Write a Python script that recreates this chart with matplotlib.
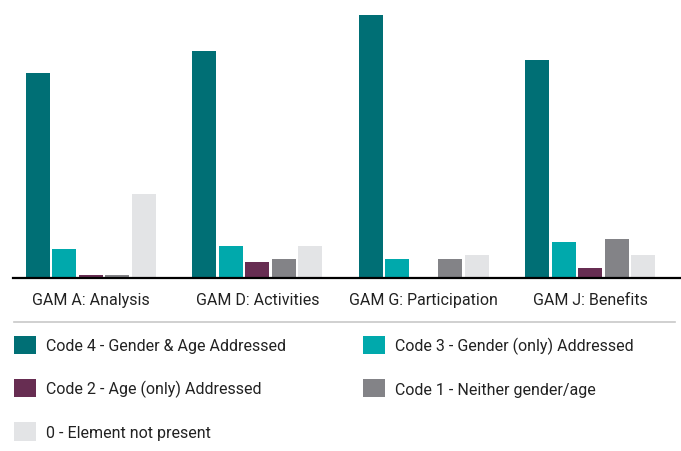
import matplotlib
matplotlib.use("Agg")
import matplotlib.pyplot as plt
from matplotlib.patches import Patch
from matplotlib.lines import Line2D
import numpy as np

plt.rcParams['font.family'] = ['Roboto', 'DejaVu Sans']

categories = ["GAM A: Analysis", "GAM D: Activities", "GAM G: Participation", "GAM J: Benefits"]
series_names = ["Code 4 - Gender & Age Addressed", "Code 3 - Gender (only) Addressed",
                "Code 2 - Age (only) Addressed", "Code 1 - Neither gender/age",
                "0 - Element not present"]
code4 = [63, 70, 81, 67]
code3 = [9, 10, 6, 11]
code2 = [1, 5, 0, 3]
code1 = [1, 6, 6, 12]
code0 = [26, 10, 7, 7]
colors = ["#006f75", "#00a9ac", "#672d52", "#838387", "#e3e4e6"]

series = [code4, code3, code2, code1, code0]

W, H = 681, 452
fig = plt.figure(figsize=(W / 100, H / 100), dpi=100)
ax = fig.add_axes([13 / W, (H - 279) / H, (W - 13) / W, 279 / H])

x = np.arange(len(categories))
step = 26.5 / 166.5
bw = 24 / 166.5
for j, (vals, c) in enumerate(zip(series, colors)):
    ax.bar(x + (j - 2) * step, vals, width=bw, color=c, label=series_names[j], zorder=2)

ax.set_xlim(-78 / 166.5, 3 + 91 / 166.5)
ax.set_ylim(0, 279 / 3.25)
for s in ["top", "right", "left"]:
    ax.spines[s].set_visible(False)
ax.spines["bottom"].set_linewidth(1.6)
ax.spines["bottom"].set_color("black")
ax.spines["bottom"].set_zorder(3)
ax.set_yticks([])
ax.set_xticks(x)
ax.set_xticklabels(categories, fontsize=11.5, color="#222222")
ax.tick_params(axis="x", length=0, pad=10)

fig.add_artist(Line2D([14 / W, 675 / W], [1 - 322.5 / H] * 2, color="#c8c8c8", lw=1.2))

fs = 11.5
fpx = fs * 100 / 72
col1 = [0, 2, 4]
col2 = [1, 3]
for cols, xpos in [(col1, 14), (col2, 363)]:
    handles = [Patch(facecolor=colors[i], edgecolor="none") for i in cols]
    labels = [series_names[i] for i in cols]
    fig.legend(handles, labels, loc="upper left",
               bbox_to_anchor=(xpos / W, 1 - 337 / H),
               frameon=False, fontsize=fs, borderpad=0, borderaxespad=0,
               handlelength=22 / fpx, handleheight=22 / fpx,
               handletextpad=10 / fpx, labelspacing=25 / fpx,
               labelcolor="#222222")

fig.savefig("out.png", dpi=100)
